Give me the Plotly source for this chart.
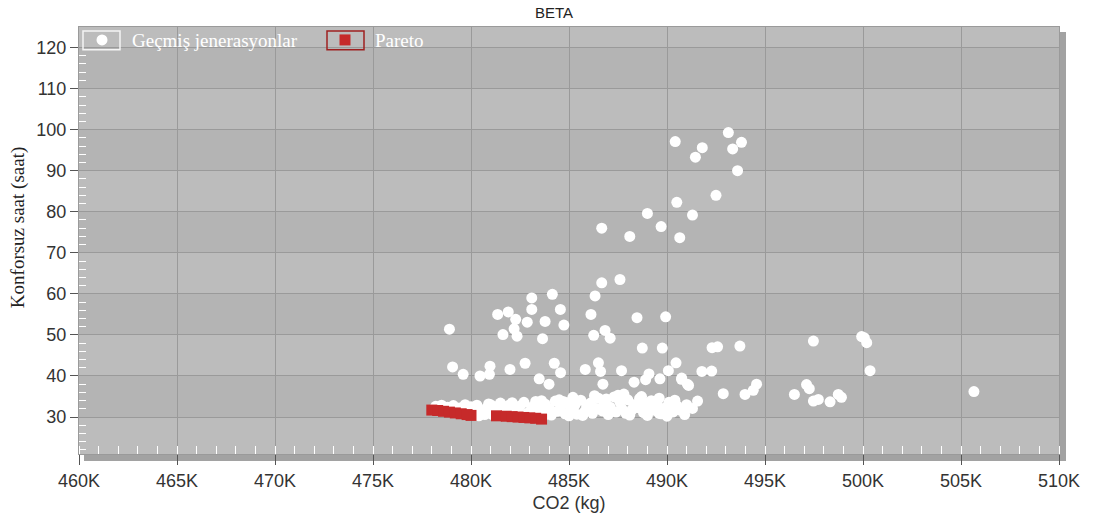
import plotly.graph_objects as go

# Past generations (CO2 in kg, discomfort hours)
gecmis_x = [
    # upper scatter
    493130, 493800, 490420, 491800, 493350, 491450, 493600, 492500, 490500, 489000,
    491300, 489700, 488100, 490650, 486670, 487600, 486670, 486330, 484150, 483100,
    483100, 484560, 481360, 481900, 482280, 482870, 483780, 486120, 488470, 489930,
    478900, 482200, 484740, 481630, 482350, 483650, 486260, 486840, 487100, 488740,
    489760, 492300, 492580, 493720, 490460, 479060, 479600, 480460, 480970, 480940,
    481990, 482760, 484250, 484570, 483480, 483980, 485830, 486500, 486610, 487680,
    486730, 488320, 489080, 488910, 489640, 490070, 490750, 491040, 491780, 492280,
    492870, 493980, 494400, 494570, 496500, 491560, 490740, 491100, 490970, 490660,
    490200, 489600,
    # right-hand outliers
    497470, 500070, 500190, 499930, 500360, 497120, 497260, 497470, 497720, 498320,
    498740, 498900, 505660,
    # dense band near the front
    478200, 478500, 478800, 479100, 479400, 479700, 480000, 480200, 480400, 480600,
    480800, 480900, 481100, 481300, 481500, 481700, 481900, 482100, 482300, 482500,
    482700, 482900, 483100, 483300, 483500, 483700, 483800, 484000, 484100, 484300,
    484400, 484600, 484800, 484900, 485100, 485300, 485400, 485600, 485800, 485900,
    486100, 486200, 486400, 486500, 486700, 486800, 487000, 487100, 487300, 487400,
    487600, 487700, 487900, 488000, 488200, 488300, 488500, 488600, 488800, 488900,
    489100, 489200, 489400, 489500, 489700, 489900, 490100, 490300, 490500, 490800,
    491000, 478300, 479000, 479600, 480300, 481000, 481400, 482000, 482600, 483200,
    483600, 484500, 485000, 485700, 486300, 486900, 487500, 488100, 488700, 489000,
    489600, 490000, 490400, 490900, 491300, 480500, 480700, 485200, 487800, 484700,
]
gecmis_y = [
    99.3, 96.9, 97.1, 95.6, 95.3, 93.3, 90.0, 84.0, 82.3, 79.6,
    79.2, 76.4, 74.0, 73.7, 76.0, 63.5, 62.7, 59.5, 59.9, 59.0,
    56.2, 56.2, 55.0, 55.6, 53.8, 53.1, 53.3, 55.0, 54.2, 54.4,
    51.4, 51.5, 52.4, 50.1, 49.7, 49.1, 49.9, 51.1, 49.2, 46.8,
    46.8, 46.9, 47.1, 47.3, 43.2, 42.2, 40.4, 40.0, 42.4, 40.4,
    41.6, 43.1, 43.1, 40.8, 39.3, 38.0, 41.6, 43.2, 41.1, 41.3,
    38.0, 38.5, 40.5, 39.1, 39.3, 41.3, 39.5, 38.0, 41.1, 41.2,
    35.7, 35.5, 36.5, 38.0, 35.5, 33.9, 39.2, 37.7, 32.5, 31.7,
    32.5, 30.9,
    48.5, 49.3, 48.1, 49.6, 41.3, 37.9, 36.9, 33.9, 34.3, 33.7,
    35.5, 34.8, 36.2,
    32.6, 32.9, 32.4, 32.8, 32.2, 33.0, 32.5, 31.4, 30.3, 31.0,
    32.2, 33.2, 30.6, 32.5, 33.4, 31.2, 32.8, 33.5, 31.5, 32.7,
    33.6, 31.0, 32.4, 33.8, 31.8, 30.2, 33.1, 32.0, 30.5, 33.9,
    31.4, 32.6, 30.8, 33.5, 31.9, 32.9, 30.7, 34.1, 31.3, 32.5,
    33.4, 30.9, 32.1, 34.6, 31.5, 33.2, 30.6, 32.4, 34.9, 31.2,
    33.6, 32.0, 30.9, 34.2, 31.7, 33.0, 32.3, 34.5, 31.1, 33.4,
    32.5, 34.0, 31.6, 33.1, 30.8, 32.2, 33.6, 31.2, 32.8, 31.5,
    33.0, 31.8, 31.5, 31.7, 32.9, 33.0, 31.0, 30.4, 30.5, 30.1,
    34.0, 34.2, 30.3, 30.4, 35.2, 34.4, 35.3, 30.5, 35.0, 30.4,
    34.6, 30.2, 34.1, 30.6, 32.1, 31.2, 30.6, 34.8, 35.6, 33.8,
]

# Pareto front
pareto_x = [478000, 478300, 478600, 478900, 479200, 479500, 479800, 480000,
            481300, 481800, 482100, 482400, 482700, 483000, 483300, 483600]
pareto_y = [31.7, 31.6, 31.4, 31.2, 31.0, 30.8, 30.6, 30.4,
            30.3, 30.2, 30.1, 30.0, 29.9, 29.8, 29.7, 29.5]

x_tick_vals = [460000, 465000, 470000, 475000, 480000, 485000,
               490000, 495000, 500000, 505000, 510000]
x_tick_text = ["460K", "465K", "470K", "475K", "480K", "485K",
               "490K", "495K", "500K", "505K", "510K"]

W, H = 1093, 521
L, R, T, B = 79, 34, 27, 61
PW, PH = W - L - R, H - T - B


def px_x(p):
    return (p - L) / PW


def px_y(p):
    return (H - B - p) / PH


fig = go.Figure()

fig.add_trace(go.Scatter(
    x=gecmis_x, y=gecmis_y, mode="markers", name="Geçmiş jenerasyonlar",
    marker=dict(symbol="circle", size=11, color="white", line=dict(width=0)),
))
fig.add_trace(go.Scatter(
    x=pareto_x, y=pareto_y, mode="markers", name="Pareto",
    marker=dict(symbol="square", size=11, color="#c62a2a", line=dict(width=0)),
))

shapes = []
# alternating horizontal bands
for y0 in [20, 40, 60, 80, 100, 120]:
    shapes.append(dict(type="rect", xref="paper", yref="y", x0=0, x1=1,
                       y0=y0, y1=y0 + 10, fillcolor="#bcbcbc",
                       line=dict(width=0), layer="below"))
# drop shadow along the right and bottom edges
shapes.append(dict(type="rect", xref="paper", yref="paper",
                   x0=1, x1=px_x(1066), y0=px_y(467), y1=px_y(32),
                   fillcolor="#a2a2a2", line=dict(width=0), layer="below"))
shapes.append(dict(type="rect", xref="paper", yref="paper",
                   x0=px_x(84), x1=px_x(1066), y0=px_y(467), y1=0,
                   fillcolor="#a2a2a2", line=dict(width=0), layer="below"))
# legend symbol frames
shapes.append(dict(type="rect", xref="paper", yref="paper",
                   x0=px_x(83), x1=px_x(120), y0=px_y(50), y1=px_y(31),
                   line=dict(color="#f4f4f4", width=1.5), layer="above"))
shapes.append(dict(type="rect", xref="paper", yref="paper",
                   x0=px_x(327), x1=px_x(364), y0=px_y(50), y1=px_y(31),
                   line=dict(color="#9e2020", width=1.5), layer="above"))

minor_y = [v for v in range(22, 120, 2) if v % 10 != 0]

fig.update_layout(
    width=W, height=H,
    margin=dict(l=L, r=R, t=T, b=B),
    paper_bgcolor="white",
    plot_bgcolor="#b4b4b4",
    title=dict(text="BETA", x=554 / W, xanchor="center", y=1 - 13 / H,
               yanchor="middle",
               font=dict(family="Liberation Sans, Arial", size=15, color="#222")),
    showlegend=True,
    legend=dict(orientation="h", x=px_x(72), y=px_y(21), xanchor="left",
                yanchor="top", bgcolor="rgba(0,0,0,0)", borderwidth=0,
                entrywidth=178, itemwidth=50,
                font=dict(family="Liberation Serif, Times New Roman", size=19,
                          color="white")),
    shapes=shapes,
    annotations=[dict(text="Konforsuz saat (saat)", xref="paper", yref="paper",
                      x=px_x(18), y=px_y(231), textangle=-90, showarrow=False,
                      xanchor="center", yanchor="middle",
                      font=dict(family="Liberation Serif, Times New Roman",
                                size=19, color="#222"))],
)

fig.update_xaxes(
    range=[460000, 510000],
    tickmode="array", tickvals=x_tick_vals, ticktext=x_tick_text,
    ticks="outside", ticklen=10, tickcolor="#555", tickwidth=1,
    tickfont=dict(family="Liberation Sans, Arial", size=18, color="#333"),
    showgrid=True, gridcolor="#9a9a9a", gridwidth=1,
    zeroline=False, showline=True, linecolor="#9a9a9a", linewidth=1, mirror=True,
    minor=dict(tick0=460000, dtick=1000, ticks="inside", ticklen=8,
               tickcolor="white", tickwidth=1, showgrid=False),
    title=dict(text="CO2 (kg)", standoff=6,
               font=dict(family="Liberation Sans, Arial", size=18, color="#333")),
)
fig.update_yaxes(
    range=[21, 125],
    tick0=0, dtick=10,
    ticks="outside", ticklen=8, tickcolor="#555", tickwidth=1,
    tickfont=dict(family="Liberation Sans, Arial", size=18, color="#333"),
    showgrid=True, gridcolor="#9a9a9a", gridwidth=1,
    zeroline=False, showline=True, linecolor="#9a9a9a", linewidth=1, mirror=True,
    minor=dict(tickmode="array", tickvals=minor_y, ticks="inside", ticklen=7,
               tickcolor="white", tickwidth=1, showgrid=False),
)

fig.write_html("out.html")
